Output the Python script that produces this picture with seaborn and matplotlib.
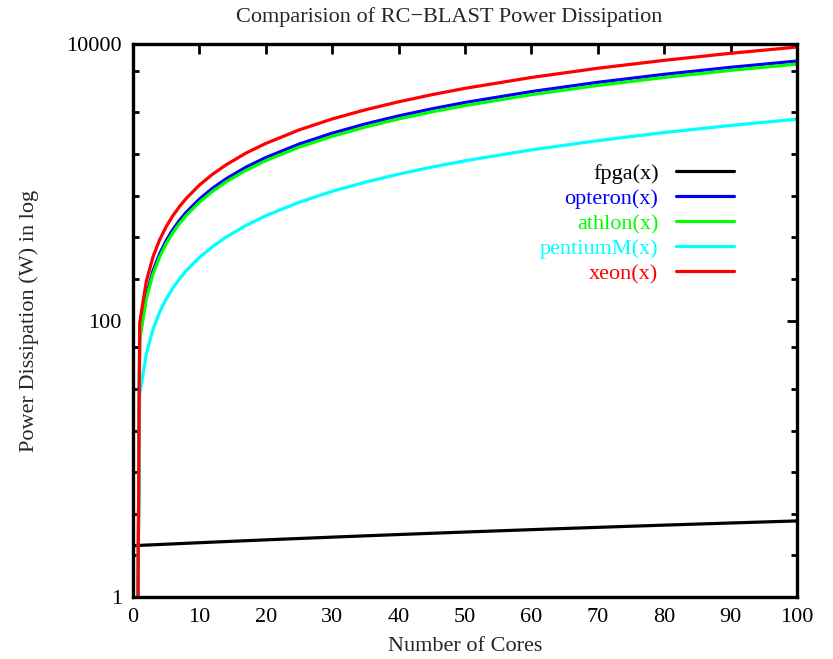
import numpy as np
import pandas as pd
import matplotlib
matplotlib.use("Agg")
import matplotlib.pyplot as plt
import seaborn as sns
from matplotlib.ticker import FixedLocator, FixedFormatter, NullFormatter

# ---- data ----
cores = [0.75, 1, 2, 3, 4, 5, 6, 7, 8, 10, 12, 14, 17, 20, 25, 30, 35, 40, 45, 50,
         60, 70, 80, 90, 100]
xeon = [1, 96, 192, 288, 383, 478, 573, 668, 763, 955, 1145, 1335, 1625, 1910, 2390,
        2870, 3345, 3820, 4300, 4780, 5730, 6680, 7620, 8570, 9510]
opteron = [1, 76, 152, 228, 303, 379, 455, 530, 605, 756, 907, 1058, 1285, 1510, 1888,
           2265, 2643, 3020, 3398, 3775, 4530, 5285, 6035, 6785, 7530]
athlon = [1, 72, 144, 216, 288, 360, 432, 503, 575, 718, 861, 1005, 1220, 1435, 1793,
          2150, 2510, 2870, 3228, 3585, 4300, 5015, 5730, 6445, 7160]
pentiumM = [1, 29, 57.5, 86, 115, 143, 172, 200, 229, 286, 343, 401, 487, 573, 716,
            860, 1002, 1145, 1288, 1430, 1715, 2000, 2290, 2575, 2860]
fpga_cores = [0, 10, 20, 30, 40, 50, 60, 70, 80, 90, 100]
fpga = [2.35, 2.47, 2.59, 2.71, 2.83, 2.95, 3.07, 3.19, 3.31, 3.43, 3.55]

series_order = ["fpga(x)", "opteron(x)", "athlon(x)", "pentiumM(x)", "xeon(x)"]
colors = ["#000000", "#0000ff", "#00ff00", "#00ffff", "#ff0000"]
yticks = [1, 100, 10000]
ytick_labels = ["1", "100", "10000"]
xticks = [0, 10, 20, 30, 40, 50, 60, 70, 80, 90, 100]
yminor = [2, 4, 8, 16, 32, 64, 200, 400, 800, 1600, 3200, 6400]

frames = [pd.DataFrame({"x": fpga_cores, "y": fpga, "series": "fpga(x)"})]
for name, vals in [("opteron(x)", opteron), ("athlon(x)", athlon),
                   ("pentiumM(x)", pentiumM), ("xeon(x)", xeon)]:
    frames.append(pd.DataFrame({"x": cores, "y": vals, "series": name}))
df = pd.concat(frames, ignore_index=True)

sns.set_style("white")
plt.rcParams["font.family"] = ["Liberation Serif", "DejaVu Serif"]
plt.rcParams["axes.unicode_minus"] = True

fig = plt.figure(figsize=(8.33, 6.59), dpi=100)
ax = fig.add_axes([0.1597, 0.0941, 0.7971, 0.8391])

sns.lineplot(data=df, x="x", y="y", hue="series", hue_order=series_order,
             palette=dict(zip(series_order, colors)), estimator=None,
             sort=False, linewidth=2.3, legend=False, ax=ax)

ax.set_yscale("log")
ax.set_xlim(0, 100)
ax.set_ylim(1, 10000)
ax.yaxis.set_major_locator(FixedLocator(yticks))
ax.yaxis.set_major_formatter(FixedFormatter(ytick_labels))
ax.yaxis.set_minor_locator(FixedLocator(yminor))
ax.yaxis.set_minor_formatter(NullFormatter())
ax.xaxis.set_major_locator(FixedLocator(xticks))
ax.set_xticklabels([str(v) for v in xticks])

for s in ax.spines.values():
    s.set_visible(True)
    s.set_color("black")
    s.set_linewidth(2.4)
ax.tick_params(which="major", direction="in", length=7, width=2,
               top=True, right=True, labelsize=16, pad=8, colors="black")
ax.tick_params(which="minor", direction="in", length=4, width=2,
               left=True, right=True, colors="black")
ax.tick_params(axis="x", which="minor", bottom=False, top=False)

ax.set_xlabel("Number of Cores", fontsize=16, labelpad=7)
ax.set_ylabel("Power Dissipation (W) in log", fontsize=16, labelpad=20)
fig.text(449 / 833, 1 - 17 / 659, "Comparision of RC\u2212BLAST Power Dissipation",
         fontsize=16, ha="center", va="center")

handles = [plt.Line2D([], [], color=c, lw=2.3) for c in colors]
leg = ax.legend(handles, series_order, loc="upper right",
                bbox_to_anchor=(0.9185, 0.80), frameon=False, markerfirst=False,
                fontsize=16, handlelength=2.6, handletextpad=0.8,
                labelspacing=0.2, labelcolor=colors, borderaxespad=0)

fig.savefig("out.png", dpi=100)
